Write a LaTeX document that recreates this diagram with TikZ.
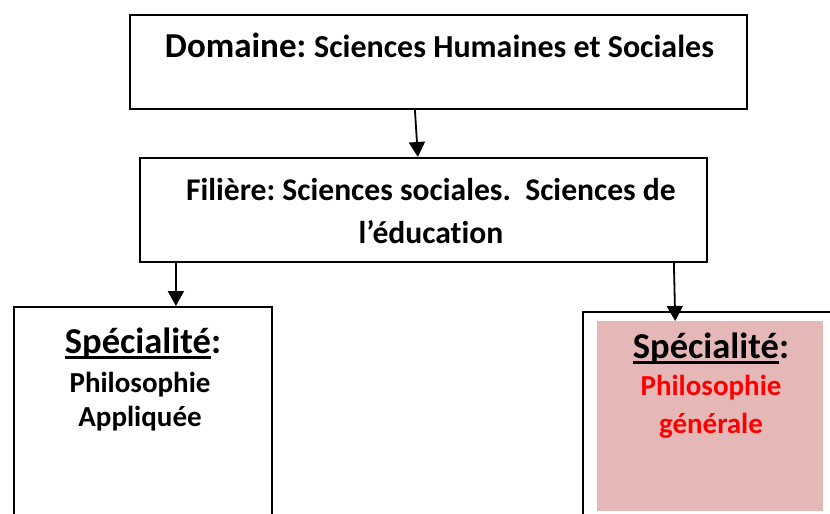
\documentclass[tikz,border=0pt]{standalone}
\usepackage{fontspec}
\setmainfont{Carlito}[Ligatures=NoCommon]
\usetikzlibrary{arrows.meta,calc}
\definecolor{pinkfill}{HTML}{E5B8B7}
\definecolor{redtxt}{HTML}{FF0000}
\newcommand\myul[1]{\setbox0\hbox{#1}\rlap{\rule[-5.5pt]{\wd0}{2.4pt}}\box0}
\frenchspacing
\tikzset{
  box/.style={draw=black, line width=1.8pt, rectangle, anchor=north west, inner sep=0pt},
  conn/.style={line width=1.8pt, -{Triangle[width=16pt,length=15pt]}},
  lbl/.style={inner sep=0pt, anchor=base, font=\bfseries}
}
\begin{document}
\begin{tikzpicture}[x=1pt,y=-1pt]
\useasboundingbox (0,0) rectangle (830,514);
\clip (0,0) rectangle (830,514);
% boxes
\node[box, minimum width=617pt, minimum height=94pt] (dom) at (129,14) {};
\node[box, minimum width=567pt, minimum height=104pt] (fil) at (139,157) {};
\node[box, minimum width=258pt, minimum height=230pt] (spa) at (13,306) {};
\node[box, minimum width=270pt, minimum height=230pt] (spg) at (582,311) {};
\node[fill=pinkfill, minimum width=226pt, minimum height=190pt, anchor=north west, inner sep=0pt] (fillg) at (597,321) {};
% texts
\node[lbl] (domt) at (439.5,57) {{\fontsize{35}{40}\selectfont Domaine: }{\fontsize{32}{38}\selectfont Sciences Humaines et Sociales}};
\node[lbl, font=\bfseries\fontsize{31.6}{37}\selectfont] (filt1) at (431,200) {Filière: Sciences sociales.\ \ Sciences de};
\node[lbl, font=\bfseries\fontsize{31.6}{37}\selectfont] (filt2) at (431,243) {l’éducation};
\node[lbl, font=\bfseries\fontsize{36.5}{42}\selectfont] (spat1) at (143,353) {\myul{Spécialité}:};
\node[lbl, font=\bfseries\fontsize{29}{34}\selectfont] (spat2) at (140,392) {Philosophie};
\node[lbl, font=\bfseries\fontsize{29}{34}\selectfont] (spat3) at (140,426) {Appliquée};
\node[lbl, font=\bfseries\fontsize{36.5}{42}\selectfont] (spgt1) at (711,358) {\myul{Spécialité}:};
\node[lbl, font=\bfseries\fontsize{29}{34}\selectfont, text=redtxt] (spgt2) at (711,395) {Philosophie};
\node[lbl, font=\bfseries\fontsize{29}{34}\selectfont, text=redtxt] (spgt3) at (711,433) {générale};
% connectors
\draw[conn] ([xshift=-23.5pt]dom.south) -- ([xshift=-5.5pt]fil.north);
\draw[conn] ([xshift=-247.5pt]fil.south) -- ([xshift=33pt]spa.north);
\draw[conn] ([xshift=250.5pt]fil.south) -- ([xshift=-35pt]fillg.north);
\end{tikzpicture}
\end{document}
